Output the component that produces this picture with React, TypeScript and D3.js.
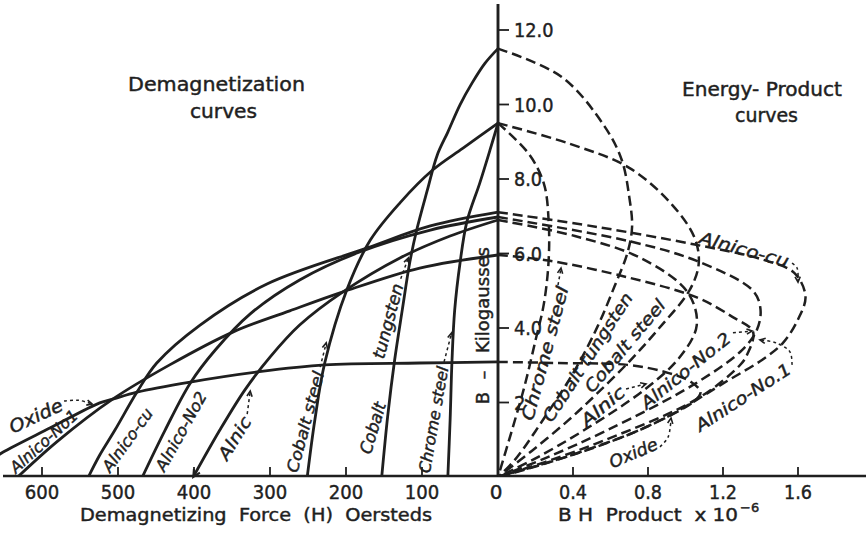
import React from "react";
import * as d3 from "d3";

const WIDTH = 868;
const HEIGHT = 533;

// ---- axis ticks ----
const hTickValues = [600, 500, 400, 300, 200, 100];
const bhTickValues = [0.4, 0.8, 1.2, 1.6];
const bhTickLabels = ["0.4", "0.8", "1.2", "1.6"];
const bTickValues = [2, 4, 6, 8, 10, 12];
const bTickLabels = ["2", "4.0", "6.0", "8.0", "10.0", "12.0"];

// ---- demagnetization curves: [H oersteds, B kilogauss] ----
const demagCobaltTungsten = [[0, 11.5], [17, 11.11], [34, 10.58], [50, 9.99], [66, 9.26], [80, 8.64], [93, 7.7], [107, 6.63], [116, 5.77], [126, 4.48], [136, 3.14], [145, 1.66], [153, 0]];
const demagCobaltSteel = [[0, 9.5], [46, 8.83], [86, 8.24], [129, 7.36], [168, 6.36], [199, 5.02], [228, 3.06], [241, 1.53], [251, 0]];
const demagChromeSteel = [[0, 9.5], [10.5, 8.78], [24, 7.89], [41, 6.85], [50, 5.74], [57, 4.48], [60.5, 3.14], [63, 1.53], [66, 0]];
const demagOxide = [[0, 3.09], [103, 3.06], [228, 3.01], [317, 2.82], [405, 2.55], [475, 2.28], [507, 2.09], [524, 1.99], [589, 1.32], [651, 0.67], [660, 0.55]];
const demagAlnicoCu = [[0, 7.11], [89, 6.74], [172, 6.15], [304, 5.18], [392, 4.08], [449, 3.06], [475, 2.28], [504, 1.26], [524, 0.59], [539, 0]];
const demagAlnicoNo1 = [[0, 5.96], [103, 5.61], [204, 4.97], [274, 4.46], [349, 3.89], [432, 3.01], [507, 2.09], [579, 0.97], [632, 0]];
const demagAlnicoNo2 = [[0, 6.98], [89, 6.63], [182, 6.04], [261, 5.29], [326, 4.38], [372, 3.41], [405, 2.52], [438, 1.26], [468, 0]];
const demagAlnic = [[0, 6.9], [63, 6.47], [129, 5.88], [204, 4.97], [261, 4.08], [300, 3.22], [333, 2.34], [366, 1.26], [401, 0]];

// ---- energy-product curves: [BH x10^-6, B kilogauss] ----
const bhCobaltTungsten = [[0, 11.5], [0.34, 10.74], [0.57, 9.4], [0.66, 8.51], [0.7, 7.52], [0.715, 6.71], [0.69, 6.01], [0.62, 5.1], [0.53, 4.03], [0.41, 2.87], [0.25, 1.61], [0.09, 0.46], [0, 0]];
const bhChromeSteel = [[0, 9.5], [0.165, 8.67], [0.245, 7.87], [0.27, 6.88], [0.27, 5.81], [0.245, 4.66], [0.2, 3.67], [0.14, 2.41], [0.07, 1.18], [0, 0]];
const bhCobaltSteel = [[0, 9.5], [0.38, 8.95], [0.7, 8.3], [0.93, 7.3], [1.05, 6.4], [1.07, 5.7], [1.02, 5.0], [0.86, 4.0], [0.7, 3.1], [0.52, 2.2], [0.37, 1.5], [0.18, 0.7], [0, 0]];
const bhOxide = [[0, 3.09], [0.32, 3.06], [0.69, 3.01], [0.89, 2.82], [1.03, 2.55], [1.08, 2.28], [1.05, 2.05], [0.78, 1.32], [0.44, 0.67], [0.2, 0.28], [0, 0]];
const bhAlnicoCu = [[0, 7.11], [0.52, 6.72], [1.05, 6.24], [1.41, 5.84], [1.58, 5.48], [1.64, 4.85], [1.6, 4.23], [1.52, 3.6], [1.41, 3.15], [1.23, 2.6], [0.87, 1.53], [0.52, 0.8], [0, 0]];
const bhAlnicoNo2 = [[0, 6.98], [0.7, 6.33], [1.06, 5.8], [1.36, 5.0], [1.4, 4.5], [1.38, 3.94], [1.3, 3.4], [1.05, 2.5], [0.58, 1.25], [0.25, 0.5], [0, 0]];
const bhAlnic = [[0, 6.9], [0.41, 6.47], [0.76, 5.88], [1.01, 4.97], [1.06, 4.08], [0.97, 3.22], [0.78, 2.34], [0.46, 1.26], [0.2, 0.5], [0, 0]];
const bhAlnicoNo1 = [[0, 5.96], [0.27, 5.81], [0.7, 5.35], [1.06, 4.82], [1.25, 4.3], [1.36, 3.9], [1.33, 3.3], [1.29, 3.0], [1.06, 2.09], [0.56, 0.97], [0.25, 0.4], [0, 0]];

const demagCurves = [demagCobaltTungsten, demagCobaltSteel, demagChromeSteel, demagOxide, demagAlnicoCu, demagAlnicoNo1, demagAlnicoNo2, demagAlnic];
const bhCurves = [bhCobaltTungsten, bhChromeSteel, bhCobaltSteel, bhOxide, bhAlnicoCu, bhAlnicoNo2, bhAlnic, bhAlnicoNo1];

// ---- curve labels (position in data units of their side) ----
type Lab = { text: string; side: "L" | "R"; at: number[]; angle: number; len: number; size: number };
const curveLabels: Lab[] = [
  { text: "Oxide", side: "L", at: [642, 1.32], angle: -25, len: 57, size: 18 },
  { text: "Alnico-No1", side: "L", at: [639, 0.19], angle: -42, len: 85, size: 16 },
  { text: "Alnico-cu", side: "L", at: [516, 0.19], angle: -54, len: 74, size: 16 },
  { text: "Alnico-No2", side: "L", at: [445, 0.19], angle: -61, len: 88, size: 16 },
  { text: "Alnic", side: "L", at: [363, 0.51], angle: -58, len: 47, size: 17 },
  { text: "Cobalt steel", side: "L", at: [271, 0.13], angle: -75, len: 104, size: 16 },
  { text: "Cobalt", side: "L", at: [175, 0.64], angle: -73, len: 53, size: 17 },
  { text: "tungsten", side: "L", at: [158, 3.19], angle: -75, len: 77, size: 17 },
  { text: "Chrome steel", side: "L", at: [97, 0.11], angle: -80, len: 108, size: 16 },
  { text: "Chrome steel", side: "R", at: [0.155, 1.53], angle: -75, len: 138, size: 17 },
  { text: "Cobalt tungsten", side: "R", at: [0.26, 1.53], angle: -57, len: 150, size: 17 },
  { text: "Cobalt steel", side: "R", at: [0.48, 2.34], angle: -50, len: 115, size: 17 },
  { text: "Alnic", side: "R", at: [0.453, 1.45], angle: -40, len: 52, size: 17 },
  { text: "Alnico-No.2", side: "R", at: [0.773, 1.93], angle: -39, len: 110, size: 17 },
  { text: "Alnico-No.1", side: "R", at: [1.061, 1.34], angle: -33, len: 110, size: 17 },
  { text: "Oxide", side: "R", at: [0.597, 0.376], angle: -23, len: 51, size: 17 },
  { text: "Alnico-cu", side: "R", at: [1.077, 6.44], angle: 15.5, len: 92, size: 17 },
];

// ---- leader arrows ----
const leaderArrows: { side: "L" | "R"; pts: number[][] }[] = [
  { side: "L", pts: [[571, 2.04], [552, 2.06], [534, 1.96]] },
  { side: "L", pts: [[330, 1.69], [326, 2.31]] },
  { side: "L", pts: [[234, 2.95], [226, 3.6]] },
  { side: "L", pts: [[128, 5.32], [118, 5.88]] },
  { side: "L", pts: [[71, 3.09], [61, 3.87]] },
  { side: "R", pts: [[0.32, 5.15], [0.336, 5.61]] },
  { side: "R", pts: [[0.683, 2.36], [0.789, 2.5]] },
  { side: "R", pts: [[1.253, 3.87], [1.355, 3.92]] },
  { side: "R", pts: [[1.568, 3.01], [1.557, 3.36], [1.483, 3.6], [1.397, 3.68]] },
  { side: "R", pts: [[0.864, 0.81], [0.907, 1.07], [0.923, 1.58]] },
  { side: "R", pts: [[1.568, 5.74], [1.595, 5.61], [1.6, 5.23]] },
];

const ink = "#1f1f1f";
const font = "'DejaVu Sans', 'Noto Sans', sans-serif";
const textStroke = { stroke: ink, strokeWidth: 0.45 };

export default function App() {
  const xH = d3.scaleLinear().domain([0, 655]).range([498, 498 - 655 * 0.76]);
  const xBH = d3.scaleLinear().domain([0, 1.98]).range([498, 498 + 1.98 * 187.5]);
  const yB = d3.scaleLinear().domain([0, 12.8]).range([477, 477 - 12.8 * 37.25]);

  const demagLine = d3.line<number[]>().x((d) => xH(d[0])).y((d) => yB(d[1])).curve(d3.curveCatmullRom.alpha(0.5));
  const bhLine = d3.line<number[]>().x((d) => xBH(d[0])).y((d) => yB(d[1])).curve(d3.curveCatmullRom.alpha(0.5));

  const toPx = (side: "L" | "R", p: number[]) => [side === "L" ? xH(p[0]) : xBH(p[0]), yB(p[1])];

  const head = (tip: number[], from: number[], size = 6) => {
    const a = Math.atan2(tip[1] - from[1], tip[0] - from[0]);
    const a1 = a + Math.PI - 0.45;
    const a2 = a + Math.PI + 0.45;
    return `M${tip[0] + size * Math.cos(a1)},${tip[1] + size * Math.sin(a1)}L${tip[0]},${tip[1]}L${tip[0] + size * Math.cos(a2)},${tip[1] + size * Math.sin(a2)}`;
  };

  const axisY = yB(0) - 1;
  const x0 = xH(0);
  const digitLen = (s: string) => s.replace(".", "").length * 11.5 + (s.includes(".") ? 5 : 0);

  return (
    <svg width={WIDTH} height={HEIGHT} style={{ position: "absolute", left: 0, top: 0, display: "block", background: "#fff" }} fontFamily={font}>
      <rect x={0} y={0} width={WIDTH} height={HEIGHT} fill="#fff" />
      <defs>
        <clipPath id="plotclip">
          <rect x={0} y={0} width={WIDTH} height={axisY + 1} />
        </clipPath>
      </defs>

      {/* axes */}
      <line x1={3} x2={866} y1={axisY} y2={axisY} stroke={ink} strokeWidth={2.5} />
      <line x1={x0} x2={x0} y1={4} y2={axisY} stroke={ink} strokeWidth={2.9} />

      {hTickValues.map((v) => (
        <g key={"h" + v}>
          <line x1={xH(v)} x2={xH(v)} y1={axisY} y2={axisY - 9} stroke={ink} strokeWidth={1.8} />
          <text x={xH(v)} y={499} textAnchor="middle" fontSize={20} fill={ink} {...textStroke} textLength={digitLen(String(v))} lengthAdjust="spacingAndGlyphs">{v}</text>
        </g>
      ))}
      <text x={x0 - 2} y={499} textAnchor="middle" fontSize={20} fill={ink} {...textStroke}>0</text>
      {bhTickValues.map((v, i) => (
        <g key={"bh" + v}>
          <line x1={xBH(v)} x2={xBH(v)} y1={axisY} y2={axisY - 9} stroke={ink} strokeWidth={1.8} />
          <text x={xBH(v)} y={499} textAnchor="middle" fontSize={20} fill={ink} {...textStroke} textLength={digitLen(bhTickLabels[i])} lengthAdjust="spacingAndGlyphs">{bhTickLabels[i]}</text>
        </g>
      ))}
      {bTickValues.map((v, i) => (
        <g key={"b" + v}>
          <line x1={x0} x2={x0 + 11} y1={yB(v)} y2={yB(v)} stroke={ink} strokeWidth={1.8} />
          <text x={x0 + 16} y={yB(v)} dominantBaseline="central" fontSize={19} fill={ink} {...textStroke} textLength={digitLen(bTickLabels[i])} lengthAdjust="spacingAndGlyphs">{bTickLabels[i]}</text>
        </g>
      ))}

      {/* axis titles */}
      <text x={80} y={521} fontSize={18} fill={ink} {...textStroke} textLength={352} lengthAdjust="spacingAndGlyphs" xmlSpace="preserve">Demagnetizing  Force  (H)  Oersteds</text>
      <text x={558} y={521} fontSize={18} fill={ink} {...textStroke} textLength={180} lengthAdjust="spacingAndGlyphs" xmlSpace="preserve">B H  Product  x 10</text>
      <text x={740} y={512} fontSize={13} fill={ink} {...textStroke}>−6</text>

      <text transform={`translate(482,${398}) rotate(-90)`} textAnchor="middle" dominantBaseline="central" fontSize={18} fill={ink} {...textStroke}>B</text>
      <text transform={`translate(482,${375}) rotate(-90)`} textAnchor="middle" dominantBaseline="central" fontSize={18} fill={ink} {...textStroke}>–</text>
      <text transform={`translate(482,${300}) rotate(-90)`} textAnchor="middle" dominantBaseline="central" fontSize={18} fill={ink} {...textStroke} textLength={106} lengthAdjust="spacingAndGlyphs">Kilogausses</text>

      {/* panel titles */}
      <text x={128} y={91} fontSize={19} fill={ink} {...textStroke} textLength={177} lengthAdjust="spacingAndGlyphs">Demagnetization</text>
      <text x={190} y={118} fontSize={19} fill={ink} {...textStroke} textLength={67} lengthAdjust="spacingAndGlyphs">curves</text>
      <text x={682} y={96} fontSize={19} fill={ink} {...textStroke} textLength={160} lengthAdjust="spacingAndGlyphs" xmlSpace="preserve">Energy- Product</text>
      <text x={735} y={122} fontSize={19} fill={ink} {...textStroke} textLength={63} lengthAdjust="spacingAndGlyphs">curves</text>

      {/* curves */}
      <g clipPath="url(#plotclip)">
        {demagCurves.map((c, i) => (
          <path key={"d" + i} d={demagLine(c) || ""} fill="none" stroke={ink} strokeWidth={2.8} strokeLinecap="round" />
        ))}
        {bhCurves.map((c, i) => (
          <path key={"e" + i} d={bhLine(c) || ""} fill="none" stroke={ink} strokeWidth={2.5} strokeDasharray="10 5" />
        ))}
      </g>

      {/* arrowhead at bottom of Alnic demag curve */}
      <path d={head(toPx("L", [401, 0]), toPx("L", [388, 0.45]), 8)} fill="none" stroke={ink} strokeWidth={2} />

      {/* leader arrows */}
      {leaderArrows.map((a, i) => {
        const px = a.pts.map((p) => toPx(a.side, p));
        const d = d3.line<number[]>().x((p) => p[0]).y((p) => p[1]).curve(d3.curveCatmullRom)(px) || "";
        return (
          <g key={"a" + i}>
            <path d={d} fill="none" stroke={ink} strokeWidth={1.5} strokeDasharray="3 3" />
            <path d={head(px[px.length - 1], px[px.length - 2], 6)} fill="none" stroke={ink} strokeWidth={1.6} />
          </g>
        );
      })}

      {/* curve labels */}
      {curveLabels.map((l, i) => {
        const p = toPx(l.side, l.at);
        return (
          <text
            key={"l" + i}
            transform={`translate(${p[0]},${p[1]}) rotate(${l.angle})`}
            dominantBaseline="central"
            fontSize={l.size}
            fontStyle="italic"
            fill={ink}
            {...textStroke}
            textLength={l.len}
            lengthAdjust="spacingAndGlyphs"
          >
            {l.text}
          </text>
        );
      })}
    </svg>
  );
}
